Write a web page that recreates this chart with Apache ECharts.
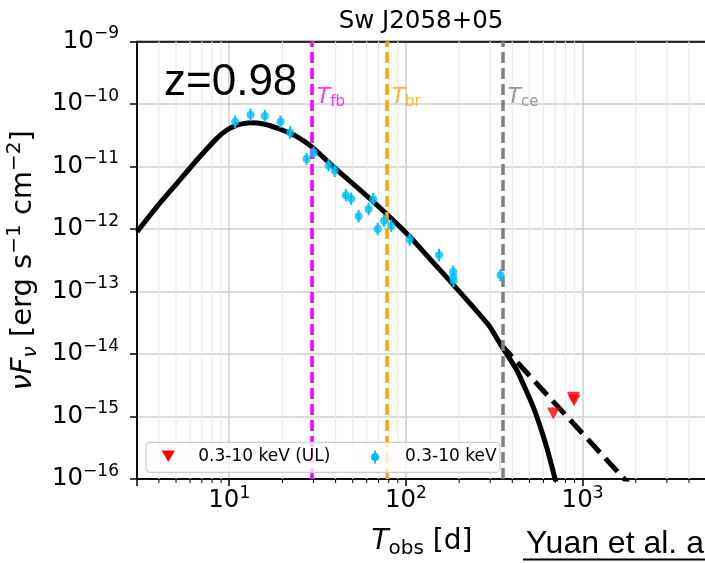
<!DOCTYPE html>
<html>
<head>
<meta charset="utf-8">
<script src="https://cdn.jsdelivr.net/npm/echarts@6/dist/echarts.min.js"></script>
<style>
html, body { margin: 0; padding: 0; background: #fff; }
#chart { width: 705px; height: 563px; }
</style>
</head>
<body>
<div id="chart"></div>
<script>
// XRT light curve (days, erg/s/cm2)
const xrtT = [10.8, 13.2, 15.9, 19.5, 22.1, 27.4, 30.1, 36.5, 39.5, 45.7, 49, 54, 61.5, 65.3, 69.2, 75.1, 82.6, 105, 154, 185, 185, 186, 343];
const xrtF = [5.2e-11, 6.7e-11, 6.4e-11, 5.2e-11, 3.5e-11, 1.32e-11, 1.66e-11, 1.05e-11, 8.6e-12, 3.46e-12, 3.05e-12, 1.6e-12, 2.09e-12, 3.0e-12, 1.0e-12, 1.36e-12, 1.13e-12, 6.8e-13, 3.84e-13, 2.07e-13, 1.72e-13, 1.49e-13, 1.82e-13];
const xrtLo = [4.13e-11, 5.32e-11, 5.08e-11, 4.13e-11, 2.78e-11, 1.05e-11, 1.32e-11, 8.3e-12, 6.8e-12, 2.75e-12, 2.42e-12, 1.27e-12, 1.66e-12, 2.38e-12, 7.9e-13, 1.08e-12, 9.0e-13, 5.4e-13, 3.05e-13, 1.64e-13, 1.37e-13, 1.18e-13, 1.45e-13];
const xrtHi = [6.55e-11, 8.44e-11, 8.06e-11, 6.55e-11, 4.41e-11, 1.66e-11, 2.09e-11, 1.32e-11, 1.08e-11, 4.36e-12, 3.84e-12, 2.01e-12, 2.63e-12, 3.78e-12, 1.26e-12, 1.71e-12, 1.42e-12, 8.6e-13, 4.83e-13, 2.61e-13, 2.17e-13, 1.88e-13, 2.29e-13];

// upper limits
const ulT = [683, 888, 895];
const ulF = [1.12e-15, 2.0e-15, 1.8e-15];

// model curve
const modelT = [3.01, 3.9, 5.06, 6.56, 8.51, 9.7, 11.07, 13.15, 15.67, 19.45, 24.15, 30.06, 38.8, 65.3, 105.4, 136.8, 177.4, 230.1, 298.5, 340.4, 423.6, 524.8, 625.2, 696.6, 750];
const modelF = [9.06e-13, 2.28e-12, 5.38e-12, 1.27e-11, 2.82e-11, 3.84e-11, 4.61e-11, 5.02e-11, 4.79e-11, 3.94e-11, 3.0e-11, 1.95e-11, 9.93e-12, 2.74e-12, 7.53e-13, 3.31e-13, 1.48e-13, 6.47e-14, 2.74e-14, 1.48e-14, 5.55e-15, 1.44e-15, 3.29e-16, 1.04e-16, 4.5e-17];
// no-cutoff extension (dashed)
const extT = [340.4, 2000];
const extF = [1.48e-14, 6.3e-17];

// characteristic times
const breakNames = ['fb', 'br', 'ce'];
const breakT = [29.3, 77.8, 352];
const breakColors = ['#ff00ff', '#ffa500', '#808080'];
const breakLabelF = 1.3e-10;

const minorT = [4, 5, 6, 7, 8, 9, 20, 30, 40, 50, 60, 70, 80, 90, 200, 300, 400, 500, 600, 700, 800, 900, 2000, 3000, 4000, 5000];

const FONT = 'DejaVu Sans';
const triPath = 'path://M0,0 L12,0 L6,11 Z';
const BLUE = '#00bfff';
const RED = '#ff0000';

function powLabel(v) {
	const l = Math.log10(v);
	const e = Math.round(l);
	if (Math.abs(l - e) > 1e-6) return '';
	return '{b|10}{s|' + String(e).replace('-', '\u2212') + '}';
}

const tickRich = {
	b: { fontSize: 24.5, lineHeight: 32, fontFamily: FONT, color: '#000' },
	s: { fontSize: 17, lineHeight: 16, verticalAlign: 'top', fontFamily: FONT, color: '#000' }
};

// legend box drawn by hand (matplotlib style)
const legendBox = [
	{ type: 'rect', z: 100, shape: { x: 146, y: 442.3, width: 354, height: 30, r: 4 }, style: { fill: 'rgba(255,255,255,0.8)', stroke: '#cccccc', lineWidth: 1.2 } },
	{ type: 'polygon', z: 101, shape: { points: [[161.8, 450.5], [174.8, 450.5], [168.3, 462]] }, style: { fill: RED } },
	{ type: 'text', z: 101, x: 198.3, y: 457, style: { text: '0.3-10 keV (UL)', fontSize: 17, fontFamily: FONT, fill: '#000', verticalAlign: 'middle' } },
	{ type: 'line', z: 101, shape: { x1: 375, y1: 450.5, x2: 375, y2: 463.5 }, style: { stroke: BLUE, lineWidth: 2 } },
	{ type: 'circle', z: 101, shape: { cx: 375, cy: 457, r: 4 }, style: { fill: BLUE } },
	{ type: 'text', z: 101, x: 405, y: 457, style: { text: '0.3-10 keV', fontSize: 17, fontFamily: FONT, fill: '#000', verticalAlign: 'middle' } }
];

const chart = echarts.init(document.getElementById('chart'));

chart.setOption({
	animation: false,
	backgroundColor: '#fff',
	textStyle: { fontFamily: FONT },
	grid: {
		left: 137, right: -2, top: 41.5, bottom: 84,
		show: true, borderColor: '#000', borderWidth: 1.5,
		outerBoundsMode: 'none'
	},
	xAxis: [{
		type: 'log', logBase: 10, min: 3.006, max: 5060, splitNumber: 3,
		name: '{t|T}{s|obs}{n| [d]}',
		nameLocation: 'middle', nameGap: 46,
		nameTextStyle: {
			rich: {
				t: { fontSize: 28, fontStyle: 'italic', fontFamily: FONT, color: '#000', lineHeight: 34 },
				s: { fontSize: 20, fontFamily: FONT, color: '#000', lineHeight: 20, verticalAlign: 'bottom' },
				n: { fontSize: 28, fontFamily: FONT, color: '#000', lineHeight: 34 }
			}
		},
		axisLine: { show: true, lineStyle: { color: '#000', width: 1.5 } },
		axisTick: { show: true, length: 7, lineStyle: { color: '#000', width: 1.5 } },
		axisLabel: { formatter: powLabel, margin: 6, rich: tickRich },
		splitLine: { show: true, showMinLine: false, showMaxLine: false, lineStyle: { color: '#cfcfcf', width: 1.5 } }
	}, {
		// top spine
		type: 'log', logBase: 10, min: 3.006, max: 5060, position: 'top',
		axisLine: { show: true, onZero: false, lineStyle: { color: '#000', width: 1.5 } },
		axisTick: { show: false }, axisLabel: { show: false }, splitLine: { show: false }
	}],
	yAxis: {
		type: 'log', logBase: 10, min: 1e-16, max: 1e-9, splitNumber: 7,
		name: '{i|\u03bdF}{sub|\u03bd}{n| [erg s}{sup|\u22121}{n| cm}{sup|\u22122}{n|]}',
		nameLocation: 'middle', nameRotate: 90, nameGap: 89,
		nameTextStyle: {
			rich: {
				i: { fontSize: 29, fontStyle: 'italic', fontFamily: FONT, color: '#000', lineHeight: 36 },
				n: { fontSize: 29, fontFamily: FONT, color: '#000', lineHeight: 36 },
				sub: { fontSize: 20, fontStyle: 'italic', fontFamily: FONT, color: '#000', lineHeight: 20, verticalAlign: 'bottom' },
				sup: { fontSize: 20, fontFamily: FONT, color: '#000', lineHeight: 20, verticalAlign: 'top' }
			}
		},
		axisLine: { show: true, lineStyle: { color: '#000', width: 1.5 } },
		axisTick: { show: true, length: 7, lineStyle: { color: '#000', width: 1.5 } },
		axisLabel: { formatter: powLabel, margin: 18, rich: tickRich },
		splitLine: { show: true, showMinLine: false, showMaxLine: false, lineStyle: { color: '#cfcfcf', width: 1.5 } }
	},
	graphic: [
		{ type: 'text', x: 421, y: 22, style: { text: 'Sw J2058+05', fontSize: 24.5, fontFamily: FONT, fill: '#000', align: 'center', verticalAlign: 'middle' } },
		{ type: 'text', x: 164, y: 83, z: 10, style: { text: 'z=0.98', fontSize: 44, fontFamily: 'Liberation Sans', fill: '#000', align: 'left', verticalAlign: 'middle' } },
		{ type: 'text', x: 526, y: 544.5, style: { text: 'Yuan et al. a', fontSize: 32, fontFamily: 'Liberation Sans', fill: '#000', align: 'left', verticalAlign: 'middle' } },
		{ type: 'line', shape: { x1: 523, y1: 559.5, x2: 705, y2: 559.5 }, style: { stroke: '#000', lineWidth: 2 } }
	].concat(legendBox),
	series: [
		{
			// minor x grid lines and ticks
			type: 'custom', silent: true, clip: false, z: 1,
			encode: { x: 0, y: 1 },
			data: minorT.map(t => [t, 1e-12]),
			renderItem: function (params, api) {
				const cs = params.coordSys;
				const x = api.coord([api.value(0), api.value(1)])[0];
				const yb = cs.y + cs.height;
				return {
					type: 'group',
					children: [
						{ type: 'line', shape: { x1: x, y1: cs.y, x2: x, y2: yb }, style: { stroke: '#ebebeb', lineWidth: 1.2 } },
						{ type: 'line', shape: { x1: x, y1: yb, x2: x, y2: yb + 4 }, style: { stroke: '#000', lineWidth: 1 } }
					]
				};
			}
		},
		{
			// vertical dashed lines
			type: 'line', data: [], silent: true, z: 2,
			markLine: {
				silent: true, symbol: 'none', label: { show: false },
				data: breakT.map((t, i) => ({ xAxis: t, lineStyle: { color: breakColors[i], width: 3.5, type: [11, 5] } }))
			}
		},
		{
			type: 'scatter', silent: true, symbolSize: 0, z: 3,
			data: breakT.map((t, i) => ({
				value: [t, breakLabelF],
				label: { color: breakColors[i], formatter: '{t|T}{s|' + breakNames[i] + '}' }
			})),
			label: {
				show: true, position: 'right', distance: 5,
				rich: {
					t: { fontSize: 22, fontStyle: 'italic', fontFamily: FONT, lineHeight: 26 },
					s: { fontSize: 15, fontFamily: FONT, lineHeight: 15, verticalAlign: 'bottom' }
				}
			}
		},
		{
			type: 'line', name: 'model', showSymbol: false, smooth: 0.15, z: 4,
			data: modelT.map((t, i) => [t, modelF[i]]),
			lineStyle: { color: '#000', width: 5 }
		},
		{
			type: 'line', name: 'ext', showSymbol: false, z: 4,
			data: extT.map((t, i) => [t, extF[i]]),
			lineStyle: { color: '#000', width: 5, type: [18, 8] }
		},
		{
			// error bars
			type: 'custom', silent: true, z: 5,
			encode: { x: 0, y: [1, 2] },
			data: xrtT.map((t, i) => [t, xrtLo[i], xrtHi[i]]),
			renderItem: function (params, api) {
				const p1 = api.coord([api.value(0), api.value(1)]);
				const p2 = api.coord([api.value(0), api.value(2)]);
				return { type: 'line', shape: { x1: p1[0], y1: p1[1], x2: p2[0], y2: p2[1] }, style: { stroke: BLUE, lineWidth: 2 } };
			}
		},
		{
			type: 'scatter', name: '0.3-10 keV', symbol: 'circle', symbolSize: 8, z: 6,
			data: xrtT.map((t, i) => [t, xrtF[i]]),
			itemStyle: { color: BLUE }
		},
		{
			type: 'scatter', name: '0.3-10 keV (UL)', symbol: triPath, symbolSize: [13, 12], z: 6,
			data: ulT.map((t, i) => [t, ulF[i]]),
			itemStyle: { color: RED }
		}
	]
});
</script>
</body>
</html>
